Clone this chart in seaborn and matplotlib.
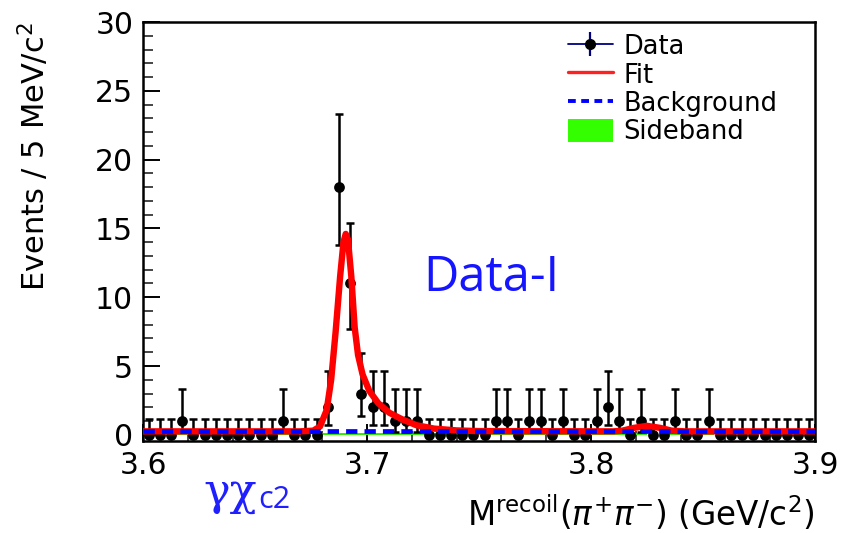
import numpy as np
import pandas as pd
import matplotlib
matplotlib.use("Agg")
import matplotlib.pyplot as plt
import seaborn as sns
from matplotlib.lines import Line2D
from matplotlib.patches import Patch
from matplotlib.legend_handler import HandlerTuple
from matplotlib.ticker import MultipleLocator, FixedLocator

# ---------------- data ----------------
x_range = (3.60, 3.90)
bin_width = 0.005
counts = [0, 0, 0, 1, 0, 0, 0, 0, 0, 0,
          0, 0, 1, 0, 0, 0, 2, 18, 11, 3,
          2, 2, 1, 1, 1, 0, 0, 0, 0, 0,
          0, 1, 1, 0, 1, 1, 0, 1, 0, 0,
          1, 2, 1, 0, 1, 0, 0, 1, 0, 0,
          1, 0, 0, 0, 0, 0, 0, 0, 0, 0]
# asymmetric (Poisson) errors per count value: (low, up)
err_table = {0: (0.0, 1.15), 1: (0.83, 2.30), 2: (1.29, 2.64),
             3: (1.63, 2.92), 11: (3.3, 4.4), 18: (4.2, 5.35)}
sideband = [0, 0, 0, .15, 0, 0, 0, 0, 0, 0,
            0, 0, .15, 0, 0, 0, .15, .15, .15, .15,
            .15, .15, .15, .15, .15, .15, .15, .15, .15, .15,
            .15, .15, .15, 0, .15, .15, 0, .15, 0, 0,
            .15, .15, .15, 0, .15, 0, 0, .15, 0, 0,
            .15, 0, 0, 0, 0, 0, 0, 0, 0, 0]
fit_x = [3.600, 3.670, 3.676, 3.679, 3.682, 3.684, 3.686, 3.688, 3.6895, 3.6905,
         3.6915, 3.693, 3.6945, 3.696, 3.698, 3.701, 3.705, 3.710, 3.716, 3.722,
         3.730, 3.740, 3.750, 3.810, 3.814, 3.819, 3.825, 3.831, 3.836, 3.842, 3.900]
fit_y = [0.25, 0.25, 0.30, 0.6, 1.8, 4.0, 7.5, 11.5, 14.0, 14.6,
         14.2, 11.5, 7.8, 5.8, 4.4, 3.2, 2.3, 1.6, 1.1, 0.7,
         0.45, 0.32, 0.27, 0.25, 0.30, 0.5, 0.65, 0.5, 0.3, 0.25, 0.25]
bkg_level = 0.25
x_ticks = [3.6, 3.7, 3.8, 3.9]
x_ticklabels = ["3.6", "3.7", "3.8", "3.9"]
y_ticks = [0, 5, 10, 15, 20, 25, 30]
y_ticklabels = ["0", "5", "10", "15", "20", "25", "30"]

# ---------------- build tables ----------------
edges = np.linspace(x_range[0], x_range[1], len(counts) + 1)
centers = 0.5 * (edges[:-1] + edges[1:])
df = pd.DataFrame({"x": centers, "n": counts, "sb": sideband})
df["elo"] = [err_table[c][0] for c in counts]
df["eup"] = [err_table[c][1] for c in counts]
fit_df = pd.DataFrame({"x": fit_x, "y": fit_y})
bkg_df = pd.DataFrame({"x": list(x_range), "y": [bkg_level, bkg_level]})

# ---------------- style ----------------
sns.set_theme(style="ticks")
plt.rcParams["font.family"] = ["DejaVu Sans"]
plt.rcParams["mathtext.fontset"] = "dejavusans"
plt.rcParams["text.color"] = "black"

fig = plt.figure(figsize=(8.42, 5.33), dpi=100)
ax = fig.add_axes([143 / 842, 1 - 441 / 533, 672 / 842, 419 / 533])
ax.set_facecolor("white")

# sideband (green filled histogram)
sb_steps = list(sideband) + [sideband[-1]]
ax.fill_between(edges, 0, sb_steps, step="post", color="#33ee00", linewidth=0, zorder=1)

# data error bars and points
ax.errorbar(df["x"], df["n"], yerr=[df["elo"], df["eup"]], fmt="none",
            ecolor="black", elinewidth=1.8, capsize=3.0, capthick=1.8, zorder=2)
sns.scatterplot(data=df, x="x", y="n", color="black", s=60, edgecolor="black",
                linewidth=0, ax=ax, zorder=3)

# fit curve
sns.lineplot(data=fit_df, x="x", y="y", color="#ff0000", linewidth=4.6, ax=ax,
             zorder=4, solid_joinstyle="round", solid_capstyle="round")
# background
sns.lineplot(data=bkg_df, x="x", y="y", color="#0000ff", linewidth=3.4, ax=ax, zorder=5)
ax.get_lines()[-1].set_dashes((2.4, 1.5))

ax.set_xlim(*x_range)
ax.set_ylim(-0.45, 30)
ax.set_xlabel("")
ax.set_ylabel("")
ax.xaxis.set_major_locator(FixedLocator(x_ticks))
ax.set_xticklabels(x_ticklabels)
ax.yaxis.set_major_locator(FixedLocator(y_ticks))
ax.set_yticklabels(y_ticklabels)
ax.xaxis.set_minor_locator(MultipleLocator(0.02))
ax.yaxis.set_minor_locator(MultipleLocator(1))
ax.tick_params(axis="both", which="major", direction="in", length=12, width=1.4,
               labelsize=21.5, colors="black", pad=7)
ax.tick_params(axis="both", which="minor", direction="in", length=7, width=1.2)
for sp in ax.spines.values():
    sp.set_visible(True)
    sp.set_linewidth(1.8)
    sp.set_color("black")

# axis titles
fig.text(34 / 842, 1 - 157 / 533, "Events / 5 MeV/c$^{2}$", rotation=90,
         ha="center", va="center", fontsize=22, color="black")
fig.text(815 / 842, 1 - 513 / 533,
         r"M$^{\mathrm{recoil}}$($\pi^{+}\pi^{-}$) (GeV/c$^{2}$)",
         ha="right", va="center", fontsize=23.5, color="black")

# annotations
fig.text(491 / 842, 1 - 278 / 533, "Data-I", ha="center", va="center",
         fontsize=35, color="#1515ff", family=["Open Sans", "DejaVu Sans"])
fig.text(203 / 842, 1 - 492 / 533, "γχ", ha="left", va="center",
         fontsize=32, color="#2020ff", family=["DejaVu Serif"])
fig.text(258 / 842, 1 - 500 / 533, "c2", ha="left", va="center",
         fontsize=22, color="#2020ff", family=["Open Sans", "DejaVu Sans"])

# legend
h_data = (Line2D([], [], color="#000080", lw=1.3),
          Line2D([], [], color="#000080", lw=0, marker="|", markersize=17, markeredgewidth=1.6),
          Line2D([], [], color="black", lw=0, marker="o", markersize=7))
h_fit = Line2D([], [], color="#ff2020", lw=2.4)
h_bkg = Line2D([], [], color="#0000ff", lw=2.8, dashes=(2.0, 1.4))
h_sb = Patch(facecolor="#33ff00", edgecolor="none")
leg = fig.legend([h_data, h_fit, h_bkg, h_sb], ["Data", "Fit", "Background", "Sideband"],
                 handler_map={tuple: HandlerTuple(ndivide=1)},
                 loc="upper left", bbox_to_anchor=(550 / 842, 1 - 16 / 533),
                 frameon=False, fontsize=18.5, handlelength=1.75, handleheight=1.0,
                 handletextpad=0.4, labelspacing=0.08, borderpad=0.2,
                 labelcolor="black")

fig.savefig("out.png", dpi=100, facecolor="white")
